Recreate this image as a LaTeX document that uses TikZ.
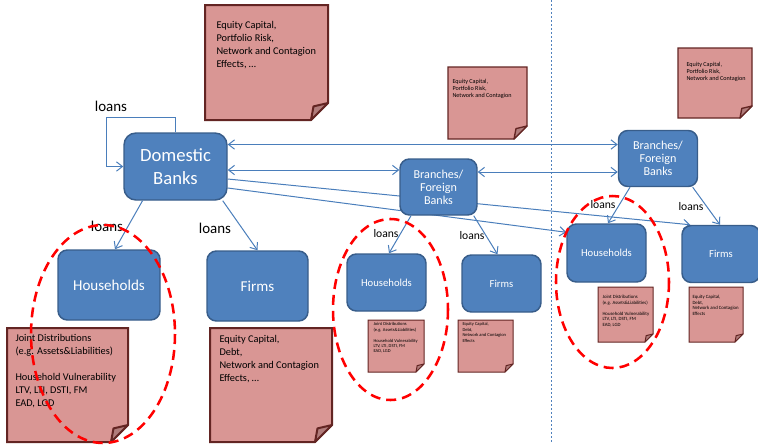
\documentclass[tikz,border=0pt]{standalone}
\usepackage{fontspec}
\setmainfont{Carlito}
\usetikzlibrary{arrows.meta,calc,backgrounds}

\definecolor{boxfill}{HTML}{4F81BD}
\definecolor{boxline}{HTML}{385D8A}
\definecolor{linkblue}{HTML}{4A7EBB}
\definecolor{notefill}{HTML}{D99694}
\definecolor{noteline}{HTML}{632523}
\definecolor{foldfill}{HTML}{B07C7B}

\tikzset{every picture/.style={line width=0.75pt}}
\tikzset{
  bank/.style={draw=boxline, line width=1.1pt, fill=boxfill, rounded corners=7pt, text=white, align=center, inner sep=0pt},
  barb/.tip={Straight Barb[length=4.5pt,width=7pt]},
  link/.style={draw=linkblue, line width=0.75pt, -barb},
  twoway/.style={draw=linkblue, line width=0.75pt, barb-barb},
  note/.style={draw=noteline, fill=notefill, line width=1.5pt, line join=miter},
  notefold/.style={draw=noteline, fill=foldfill, line width=1.5pt, line join=round},
  smallnote/.style={note, line width=0.75pt},
  smallfold/.style={notefold, line width=0.75pt},
  notetext/.style={anchor=north west, inner sep=0pt, align=left},
  ring/.style={draw=red, line width=1.9pt, dash pattern=on 7.5pt off 4.5pt},
  loanlbl/.style={inner sep=0.75pt}
}

\begin{document}
\begin{tikzpicture}[x=0.75pt,y=0.75pt,yscale=-1,xscale=1]
\useasboundingbox (0,0) rectangle (758,444);

%Shape: Folded Corner - banks, top left
\draw[note] (205,5) -- (328,5) -- (328,103) -- (311,120) -- (205,120) -- cycle ;
\draw[notefold] (311,120) -- (313.5,106.4) -- (328,103) -- cycle ;
%Shape: Folded Corner - branches, middle
\draw[note, line width=1pt] (448,67) -- (527,67) -- (527,126) -- (514,139) -- (448,139) -- cycle ;
\draw[notefold, line width=1pt] (514,139) -- (516,128.6) -- (527,126) -- cycle ;
%Shape: Folded Corner - branches, right
\draw[note, line width=1pt] (678,48) -- (752,48) -- (752,106) -- (740,118) -- (678,118) -- cycle ;
\draw[notefold, line width=1pt] (740,118) -- (741.8,108.4) -- (752,106) -- cycle ;
%Shape: Folded Corner - households, left
\draw[note] (7,328) -- (128,328) -- (128,425) -- (111,442) -- (7,442) -- cycle ;
\draw[notefold] (111,442) -- (113.5,428.4) -- (128,425) -- cycle ;
%Shape: Folded Corner - firms, left
\draw[note] (210,328) -- (332,328) -- (332,425) -- (315,442) -- (210,442) -- cycle ;
\draw[notefold] (315,442) -- (317.5,428.4) -- (332,425) -- cycle ;
%Shape: Folded Corner - households, middle
\draw[smallnote] (368,320) -- (424,320) -- (424,364) -- (416,372) -- (368,372) -- cycle ;
\draw[smallfold] (416,372) -- (417.2,365.6) -- (424,364) -- cycle ;
%Shape: Folded Corner - firms, middle
\draw[smallnote] (458,320) -- (513,320) -- (513,364) -- (505,372) -- (458,372) -- cycle ;
\draw[smallfold] (505,372) -- (506.2,365.6) -- (513,364) -- cycle ;
%Shape: Folded Corner - households, right
\draw[smallnote] (598,287) -- (653,287) -- (653,334) -- (645,342) -- (598,342) -- cycle ;
\draw[smallfold] (645,342) -- (646.2,335.6) -- (653,334) -- cycle ;
%Shape: Folded Corner - firms, right
\draw[smallnote] (689,287) -- (743,287) -- (743,334) -- (735,342) -- (689,342) -- cycle ;
\draw[smallfold] (735,342) -- (736.2,335.6) -- (743,334) -- cycle ;

%Straight Lines - divider
\draw[draw=boxfill, line width=0.75pt, dash pattern=on 1.5pt off 1.5pt] (551,0) -- (551,444) ;

% Text Node
\node[notetext, font=\fontsize{7.75}{9.75}\selectfont] (tTopL) at (216,21) {Equity Capital,\\Portfolio Risk,\\Network and Contagion\\Effects, \dots};
% Text Node
\node[notetext, font=\fontsize{4.6}{5.25}\selectfont] (tTopM) at (452,79) {Equity Capital,\\Portfolio Risk,\\Network and Contagion};
% Text Node
\node[notetext, font=\fontsize{4.6}{5.25}\selectfont] (tTopR) at (686,62) {Equity Capital,\\Portfolio Risk,\\Network and Contagion};
% Text Node
\node[notetext, font=\fontsize{7.75}{9.75}\selectfont] (tHHL) at (15,334) {Joint Distributions\\(e.g. Assets\&Liabilities)\\[9.75pt]Household Vulnerability\\LTV, LTI, DSTI, FM\\EAD, LGD};
% Text Node
\node[notetext, font=\fontsize{7.75}{9.75}\selectfont] (tFL) at (219,335) {Equity Capital,\\Debt,\\Network and Contagion\\Effects, \dots};
% Text Node
\node[notetext, font=\fontsize{3.4}{4.1}\selectfont] (tHHM) at (373,322) {Joint Distributions\\(e.g. Assets\&Liabilities)\\[4.1pt]Household Vulnerability\\LTV, LTI, DSTI, FM\\EAD, LGD};
% Text Node
\node[notetext, font=\fontsize{3.4}{4.1}\selectfont] (tFM) at (462,322) {Equity Capital,\\Debt,\\Network and Contagion\\Effects};
% Text Node
\node[notetext, font=\fontsize{3.6}{4.1}\selectfont] (tHHR) at (602,295) {Joint Distributions\\(e.g. Assets\&Liabilities)\\[4.1pt]Household Vulnerability\\LTV, LTI, DSTI, FM\\EAD, LGD};
% Text Node
\node[notetext, font=\fontsize{3.6}{4.1}\selectfont] (tFR) at (692,295) {Equity Capital,\\Debt,\\Network and Contagion\\Effects};

%Rounded Rect - banks and borrowers
\node[bank, rounded corners=9pt, minimum width=77.25pt, minimum height=50.25pt, font=\fontsize{14}{17.25}\selectfont] (DB) at (175.5,166.5) {Domestic\\Banks};
\node[bank, minimum width=57.75pt, minimum height=42pt, font=\fontsize{9.1}{9.75}\selectfont] (BrM) at (438.5,187) {Branches/\\Foreign\\Banks};
\node[bank, minimum width=59.25pt, minimum height=42pt, font=\fontsize{9.1}{9.75}\selectfont] (BrR) at (658,158.5) {Branches/\\Foreign\\Banks};
\node[bank, minimum width=76.5pt, minimum height=52.5pt, font=\fontsize{11.3}{13}\selectfont] (HHL) at (109,285) {Households};
\node[bank, minimum width=75.75pt, minimum height=52.5pt, font=\fontsize{11.3}{13}\selectfont] (FL) at (257.5,286) {Firms};
\node[bank, minimum width=59.25pt, minimum height=42.75pt, font=\fontsize{8}{9}\selectfont] (HHM) at (386.5,282.5) {Households};
\node[bank, minimum width=59.25pt, minimum height=42.75pt, font=\fontsize{8}{9}\selectfont] (FM) at (501.5,283.5) {Firms};
\node[bank, minimum width=59.25pt, minimum height=43.5pt, font=\fontsize{8}{9}\selectfont] (HHR) at (606.5,253) {Households};
\node[bank, minimum width=58.5pt, minimum height=42.75pt, font=\fontsize{8}{9}\selectfont] (FR) at (721,254) {Firms};

%Connectors
\draw[link] (DB.north) -- ++(0,-15) -| ($(DB.west)+(-17,0)$) -- (DB.west) ;
\draw[twoway] ($(DB.east)+(0,-22)$) -- ($(BrR.west)+(0,-14)$) ;
\draw[twoway] ($(DB.east)+(0,3.5)$) -- ($(BrM.west)+(0,-17)$) ;
\draw[twoway] ($(BrM.east)+(0,-15)$) -- ($(BrR.west)+(0,13.5)$) ;
% these two pass behind the middle branches
\begin{scope}[on background layer]
\draw[link] ($(DB.east)+(0,12.5)$) -- ($(FR.north west)+(9,0)$) ;
\draw[link] ($(DB.east)+(0,21.5)$) -- ($(HHR.north west)+(0,9)$) ;
\end{scope}
\draw[link] ($(DB.south)+(-33,0)$) -- ($(HHL.north)+(6,0)$) ;
\draw[link] ($(DB.south east)+(-5,0)$) -- (FL.north) ;
\draw[link] ($(BrM.south)+(-27.5,0)$) -- ($(HHM.north)+(2.5,0)$) ;
\draw[link] ($(BrM.south east)+(-4,0)$) -- ($(FM.north)+(-4,0)$) ;
\draw[link] ($(BrR.south)+(-28,0)$) -- ($(HHR.north)+(1.5,0)$) ;
\draw[link] ($(BrR.south east)+(-5.5,0)$) -- ($(FR.north)+(-1,0)$) ;

% Text Node
\node[loanlbl, font=\fontsize{11.2}{13}\selectfont] (lLoop) at (111,106) {loans};
\node[loanlbl, font=\fontsize{11.2}{13}\selectfont] (lHHL) at (107,226) {loans};
\node[loanlbl, font=\fontsize{11.2}{13}\selectfont] (lFL) at (215,228) {loans};
\node[loanlbl, font=\fontsize{8.7}{10}\selectfont] (lHHM) at (386,234) {loans};
\node[loanlbl, font=\fontsize{8.7}{10}\selectfont] (lFM) at (472,236) {loans};
\node[loanlbl, font=\fontsize{8.7}{10}\selectfont] (lHHR) at (603,205) {loans};
\node[loanlbl, font=\fontsize{8.7}{10}\selectfont] (lFR) at (691,207) {loans};

%Shape: Ellipse - household groups
\draw[ring] (103,334) ellipse [x radius=72, y radius=109] ;
\draw[ring] (390.5,309.5) ellipse [x radius=57.5, y radius=90.5] ;
\draw[ring] (612.5,282) ellipse [x radius=56.5, y radius=86] ;

\end{tikzpicture}
\end{document}
